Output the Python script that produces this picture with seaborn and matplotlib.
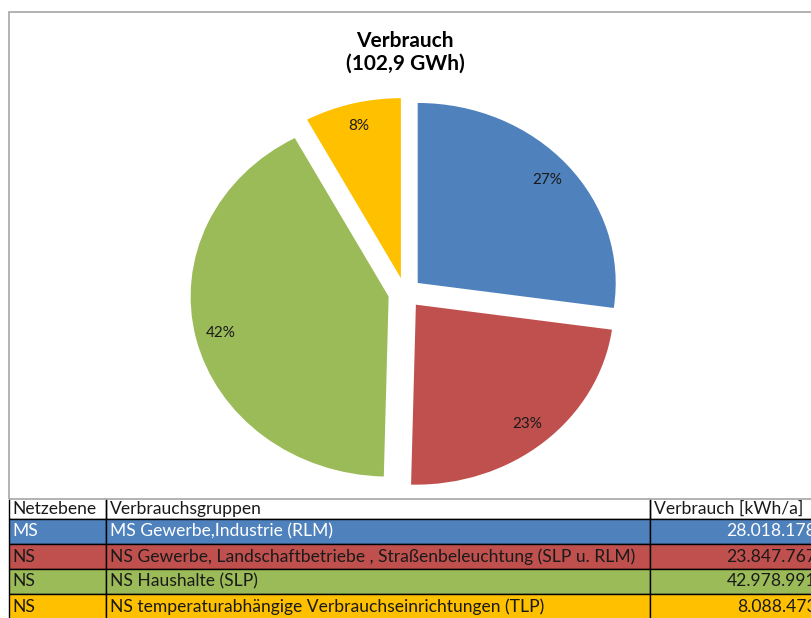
import matplotlib
matplotlib.use("Agg")
import matplotlib.pyplot as plt
from matplotlib.patches import Rectangle
import seaborn as sns

# ---- data ----
netzebene = ["MS", "NS", "NS", "NS"]
gruppen = [
    "MS Gewerbe,Industrie (RLM)",
    "NS Gewerbe, Landschaftbetriebe , Straßenbeleuchtung (SLP u. RLM)",
    "NS Haushalte (SLP)",
    "NS temperaturabhängige Verbrauchseinrichtungen (TLP)",
]
verbrauch = [28018178, 23847767, 42978991, 8088473]
header = ["Netzebene", "Verbrauchsgruppen", "Verbrauch [kWh/a]"]
title = "Verbrauch\n(102,9 GWh)"
colors = ["#4F81BD", "#C0504D", "#9BBB59", "#FFC000"]
text_colors = ["white", "#1a1a1a", "#1a1a1a", "#1a1a1a"]

sns.set_theme(style="white")
plt.rcParams["font.family"] = ["Lato", "DejaVu Sans"]

W, H = 811, 618
fig = plt.figure(figsize=(W / 100, H / 100), dpi=100)

def px_axes(left, top, width, height):
    return fig.add_axes([left / W, 1 - (top + height) / H, width / W, height / H])

# chart frame
fig.patches.append(Rectangle((9 / W, 1 - 499 / H), (830 - 9) / W, (499 - 12) / H,
                             transform=fig.transFigure, fill=False,
                             edgecolor="#A6A6A6", linewidth=1.2))

# ---- pie ----
rx, ry = 198, 180
cx, cy = 405, 293
lim = 1.3
ax = px_axes(cx - lim * rx, cy - lim * ry, 2 * lim * rx, 2 * lim * ry)

def fmt(p):
    return f"{p:.0f}%"

wedges, texts, autotexts = ax.pie(
    verbrauch, colors=colors, startangle=90, counterclock=False,
    explode=[0.085] * len(verbrauch), autopct=fmt, pctdistance=0.87,
    wedgeprops=dict(linewidth=0), textprops=dict(fontsize=11, color="#1a1a1a"))
ax.set_aspect("auto")
ax.set_xlim(-lim, lim)
ax.set_ylim(-lim, lim)
ax.axis("off")

fig.text(405 / W, 1 - 52 / H, title, ha="center", va="center",
         fontsize=15, fontweight="bold", linespacing=1.15, color="black")

# ---- table ----
tax = px_axes(9, 499, 811, 120)
tax.axis("off")
col_w = [97, 544, 170]
rows = [[n, g, f"{v:,}".replace(",", ".")] for n, g, v in zip(netzebene, gruppen, verbrauch)]
cell_text = [header] + rows
cell_col = [["white"] * 3] + [[c] * 3 for c in colors]
tbl = tax.table(cellText=cell_text, cellColours=cell_col, colWidths=col_w,
                bbox=[0, 0, 1, 1])
tbl.auto_set_font_size(False)
row_h = [20] + [25] * len(rows)
for (r, c), cell in tbl.get_celld().items():
    cell.set_height(row_h[r])
    cell.set_width(col_w[c])
    cell.set_edgecolor("black")
    cell.set_linewidth(1.0)
    cell.PAD = 3.5 / col_w[c]
    t = cell.get_text()
    t.set_fontsize(12.6)
    t.set_ha("right" if (c == 2 and r > 0) else "left")
    t.set_color("#1a1a1a" if r == 0 else text_colors[r - 1])
    if r == 0:
        cell.visible_edges = "LRB"

fig.savefig("out.png", dpi=100)
